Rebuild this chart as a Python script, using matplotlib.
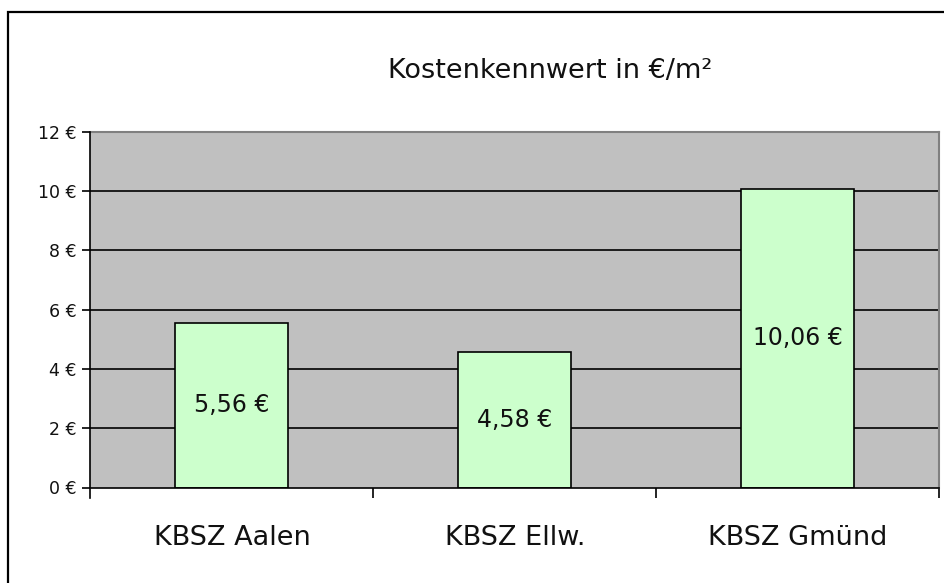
import matplotlib
matplotlib.use("Agg")
import matplotlib.pyplot as plt
from matplotlib.patches import Rectangle
from matplotlib.ticker import FixedLocator

categories = ["KBSZ Aalen", "KBSZ Ellw.", "KBSZ Gmünd"]
values = [5.56, 4.58, 10.06]
value_labels = ["5,56 €", "4,58 €", "10,06 €"]
yticks = [0, 2, 4, 6, 8, 10, 12]
ytick_labels = ["0 €", "2 €", "4 €", "6 €", "8 €", "10 €", "12 €"]
title = "Kostenkennwert in €/m²"

plt.rcParams['font.family'] = ['DejaVu Sans']

W, H = 945, 583
fig = plt.figure(figsize=(W / 100, H / 100), dpi=100)
fig.patch.set_facecolor("white")

# outer frame (cut off at right/bottom)
fig.patches.append(Rectangle((8.5 / W, -0.1), 1.2, 1 - 12.5 / H + 0.1,
                             transform=fig.transFigure, fill=False,
                             edgecolor="black", linewidth=1.6))

ax = fig.add_axes([90.5 / W, 1 - 487.5 / H, (939 - 90.5) / W, (487.5 - 132) / H])
ax.set_facecolor("#C0C0C0")
x = list(range(len(categories)))
ax.set_xlim(-0.5, len(categories) - 0.5)
ax.set_ylim(0, 12)

for yv in yticks[1:-1]:
    ax.axhline(yv, color="black", linewidth=1.2, zorder=1)

ax.bar(x, values, width=0.4, color="#CCFFCC", edgecolor="black", linewidth=1.2, zorder=2)
for xi, v, lab in zip(x, values, value_labels):
    ax.text(xi, v / 2, lab, ha="center", va="center", fontsize=17, color="#111111", zorder=3)

for s in ["top", "right"]:
    ax.spines[s].set_color("#808080")
    ax.spines[s].set_linewidth(1.5)
ax.spines["left"].set_color("black")
ax.spines["bottom"].set_color("black")
ax.spines["left"].set_linewidth(1.2)
ax.spines["bottom"].set_linewidth(1.2)
ax.spines["left"].set_bounds(-0.35, 12)
ax.spines["left"].set_zorder(4)

ax.set_yticks(yticks)
ax.set_yticklabels(ytick_labels, fontsize=12.5, color="#111111")
ax.tick_params(axis="y", direction="out", length=6, width=1.2, pad=4)

ax.set_xticks(x)
ax.set_xticklabels(categories, fontsize=19.5, color="#111111")
ax.tick_params(axis="x", which="major", length=0, pad=27)
ax.xaxis.set_minor_locator(FixedLocator([0.5, 1.5, 2.5]))
ax.tick_params(axis="x", which="minor", direction="out", length=7, width=1.2)

fig.text(550 / W, 1 - 78 / H, title, ha="center", va="baseline",
         fontsize=19.5, color="#111111")

fig.savefig("out.png", dpi=100, facecolor="white")
